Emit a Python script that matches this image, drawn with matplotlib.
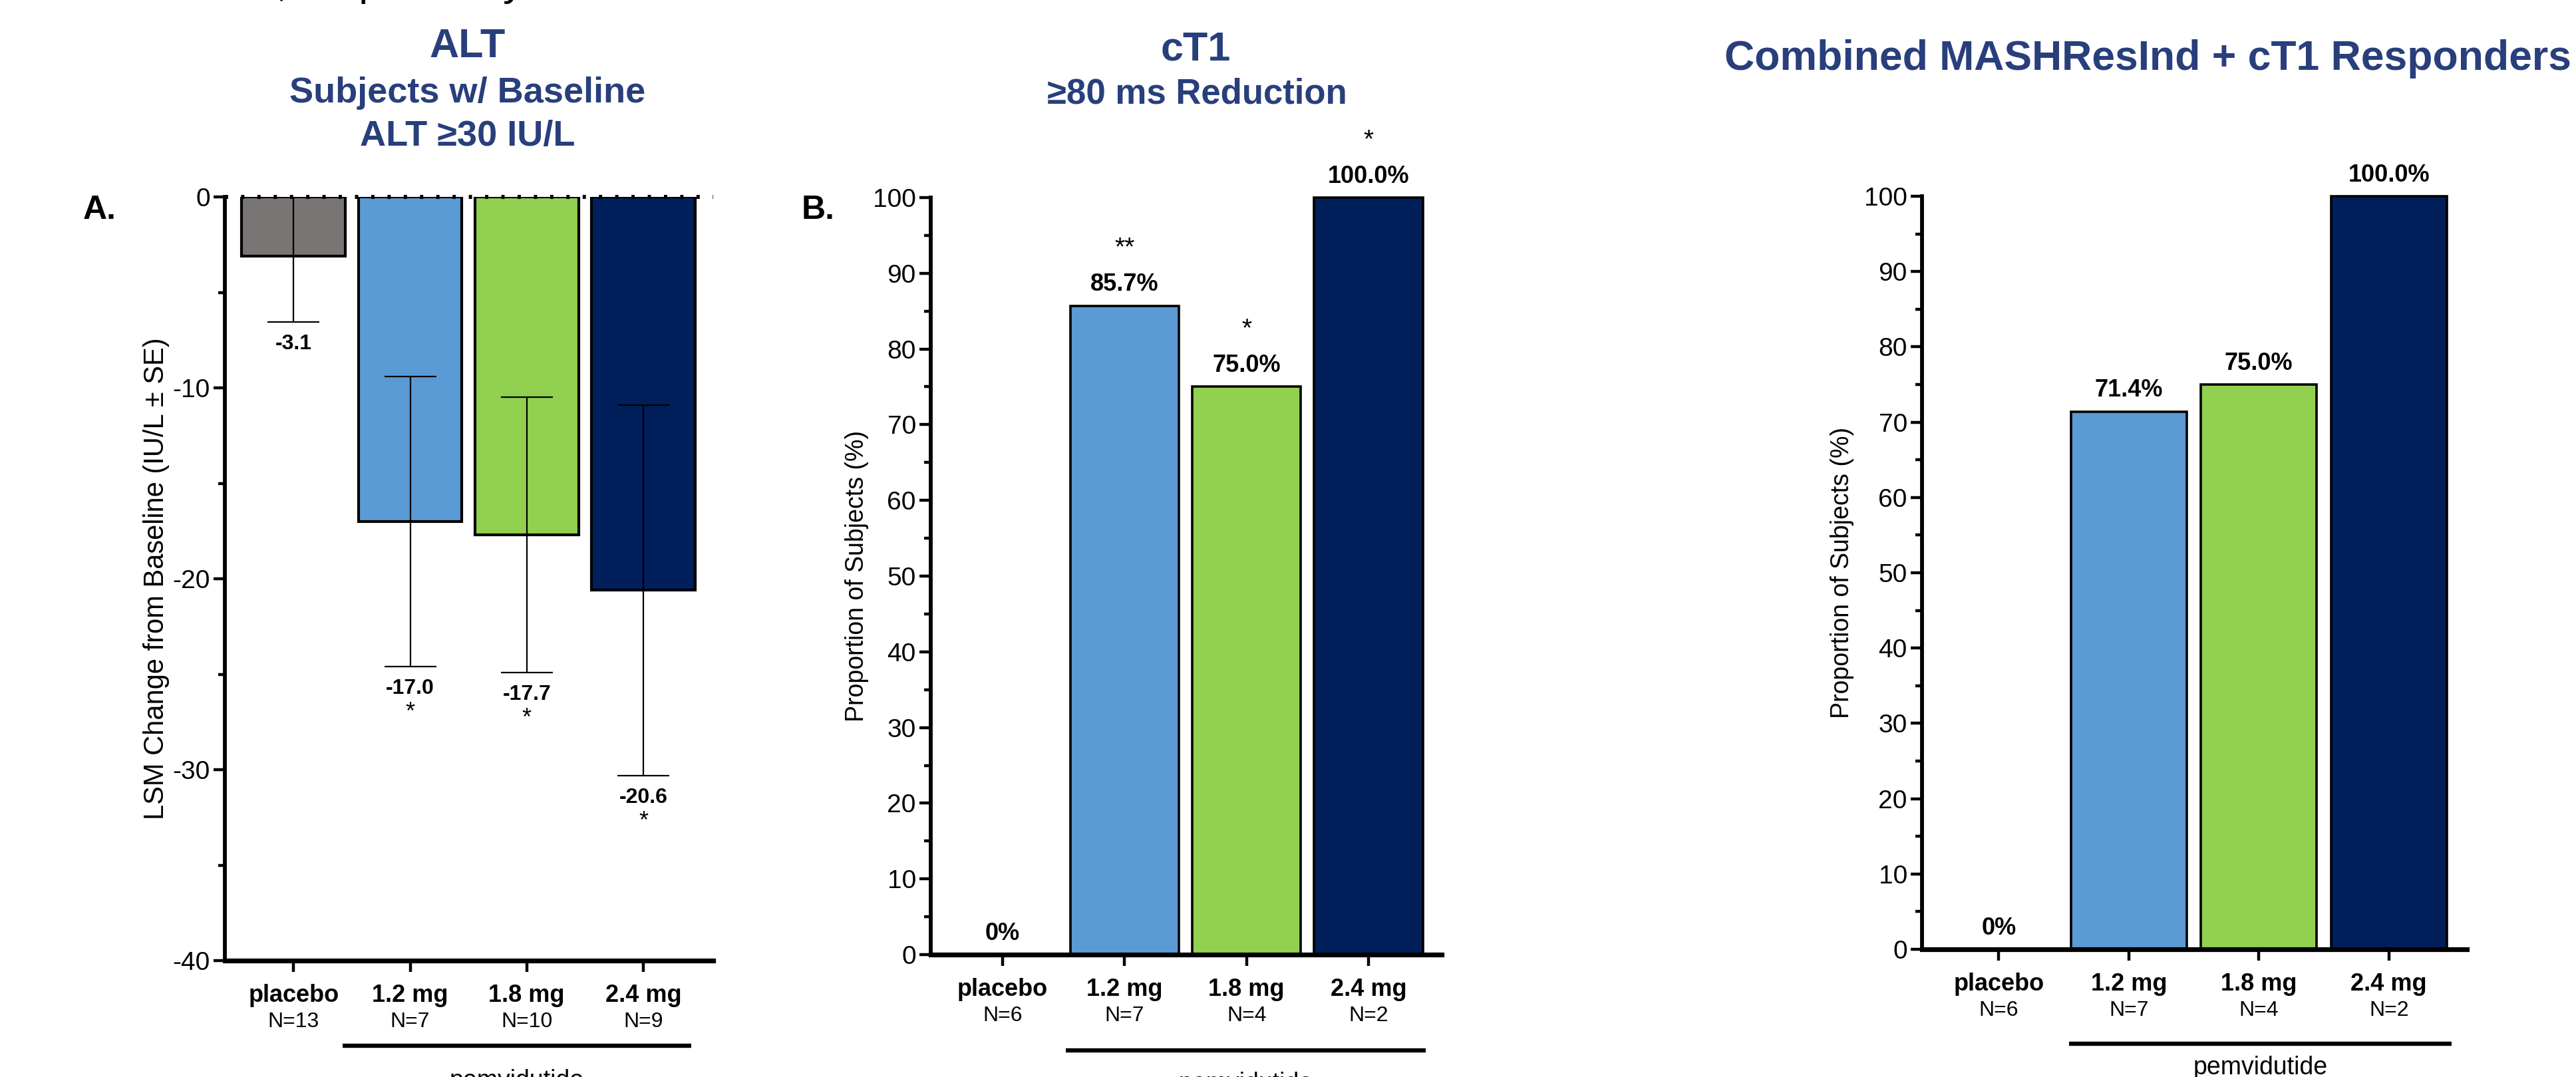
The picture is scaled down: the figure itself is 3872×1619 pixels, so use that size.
import matplotlib
matplotlib.use('Agg')
import matplotlib.pyplot as plt
from matplotlib.lines import Line2D
from matplotlib.ticker import MultipleLocator

plt.rcParams['axes.unicode_minus'] = False

W, H, DPI = 3872, 1619, 200

TITLE_COLOR = '#283F7C'
BAR_COLORS = ['#797574', '#5B9BD5', '#92D050', '#001F5B']
ARIAL = ['Liberation Sans', 'DejaVu Sans']

# ---------------------------------------------------------------------------
# Data
# ---------------------------------------------------------------------------
groups = ['placebo', '1.2 mg', '1.8 mg', '2.4 mg']

alt_n = [13, 7, 10, 9]
alt_lsm = [-3.1, -17.0, -17.7, -20.6]
alt_se = [3.45, 7.6, 7.2, 9.7]
alt_sig = ['', '*', '*', '*']

ct1_n = [6, 7, 4, 2]
ct1_pct = [0.0, 85.7, 75.0, 100.0]
ct1_sig = ['', '**', '*', '*']

combo_n = [6, 7, 4, 2]
combo_pct = [0.0, 71.4, 75.0, 100.0]
combo_sig = ['', '', '', '']


# ---------------------------------------------------------------------------
# Helpers
# ---------------------------------------------------------------------------
def px_axes(fig, l, t, r, b):
    return fig.add_axes([l / W, 1 - b / H, (r - l) / W, (b - t) / H])

def ftext(fig, x, y, s, **kw):
    fig.text(x / W, 1 - y / H, s, ha='center', va='center', **kw)

def style_axes(ax, ylim, major, minor):
    ax.set_xlim(-0.59, 3.6)
    ax.set_ylim(*ylim)
    for s in ('top', 'right'):
        ax.spines[s].set_visible(False)
    ax.spines['left'].set_linewidth(2.1)
    ax.spines['bottom'].set_linewidth(2.6)
    ax.yaxis.set_major_locator(MultipleLocator(major))
    ax.yaxis.set_minor_locator(MultipleLocator(minor))
    ax.tick_params(axis='y', which='major', length=6, width=1.6, labelsize=14, pad=2)
    ax.tick_params(axis='y', which='minor', length=3.5, width=1.6)
    ax.set_xticks(range(len(groups)))
    ax.set_xticklabels([])
    ax.tick_params(axis='x', length=6, width=1.6)
    for lab in ax.get_yticklabels():
        lab.set_fontfamily(ARIAL)

def set_ylabel(ax, text, size, xfrac):
    ax.set_ylabel(text, fontsize=size, family=ARIAL)
    ax.yaxis.set_label_coords(xfrac, 0.5)

def group_labels(ax, ns, span, line_off, text_off):
    for i, (g, n) in enumerate(zip(groups, ns)):
        ax.annotate(g, xy=(i, 0), xycoords=('data', 'axes fraction'),
                    xytext=(0, -19), textcoords='offset points',
                    ha='center', va='center', fontsize=13,
                    fontweight='bold', family=ARIAL, annotation_clip=False)
        ax.annotate(f'N={n}', xy=(i, 0), xycoords=('data', 'axes fraction'),
                    xytext=(0, -33), textcoords='offset points',
                    ha='center', va='center', fontsize=11.5,
                    family=ARIAL, annotation_clip=False)
    trans = ax.get_xaxis_transform()
    dy = line_off * DPI / 72 / (ax.bbox.height)
    ax.add_line(Line2D(span, [-dy, -dy], transform=trans, color='black',
                       lw=2.3, clip_on=False, solid_capstyle='butt'))
    ax.annotate('pemvidutide', xy=(sum(span) / 2, 0),
                xycoords=('data', 'axes fraction'),
                xytext=(0, -text_off), textcoords='offset points',
                ha='center', va='center', fontsize=13.5, family=ARIAL,
                annotation_clip=False)

def pct_bars(ax, pct, sig):
    ax.bar(range(len(pct)), pct, width=0.89, color=BAR_COLORS,
           edgecolor='black', linewidth=1.3, clip_on=False, zorder=2)
    for i, (v, s) in enumerate(zip(pct, sig)):
        lab = '0%' if v == 0 else f'{v:.1f}%'
        ax.annotate(lab, xy=(i, v), xytext=(0, 11.5), textcoords='offset points',
                    ha='center', va='center', fontsize=13, fontweight='bold',
                    family=ARIAL, annotation_clip=False)
        if s:
            ax.annotate(s, xy=(i, v), xytext=(0, 31), textcoords='offset points',
                        ha='center', va='center', fontsize=14,
                        family=ARIAL, annotation_clip=False)


# ---------------------------------------------------------------------------
# Figure
# ---------------------------------------------------------------------------
fig = plt.figure(figsize=(W / DPI, H / DPI), dpi=DPI)

# cut-off line of text at the very top of the slide
fig.text(415 / W, 1 + 7 / H, ', respectively', ha='left', va='baseline',
         fontsize=23, family=ARIAL, color='black')

# Panel A: ALT
axA = px_axes(fig, 338, 296, 1072, 1444)
style_axes(axA, (-40, 0), 10, 5)
axA.bar(range(len(alt_lsm)), alt_lsm, width=0.89, color=BAR_COLORS,
        edgecolor='black', linewidth=1.5, zorder=2)
axA.errorbar(range(len(alt_lsm)), alt_lsm, yerr=alt_se, fmt='none',
             ecolor='black', elinewidth=0.8, capsize=14, capthick=0.8, zorder=3)
axA.axhline(0, color='black', lw=2.2, ls=(0, (0.8, 3.2)), zorder=4, clip_on=False)
for i, (v, e, s) in enumerate(zip(alt_lsm, alt_se, alt_sig)):
    axA.annotate(f'{v:.1f}', xy=(i, v - e), xytext=(0, -12), textcoords='offset points',
                 ha='center', va='center', fontsize=11.5, fontweight='bold',
                 family=ARIAL)
    if s:
        axA.annotate(s, xy=(i, v - e), xytext=(0, -25), textcoords='offset points',
                     ha='center', va='center', fontsize=13, family=ARIAL)
set_ylabel(axA, 'LSM Change from Baseline (IU/L \u00b1 SE)', 15, -0.113)
group_labels(axA, alt_n, (0.42, 3.41), 46, 65)

# Panel B: cT1
axB = px_axes(fig, 1399, 297, 2167, 1435)
style_axes(axB, (0, 100), 10, 5)
pct_bars(axB, ct1_pct, ct1_sig)
set_ylabel(axB, 'Proportion of Subjects (%)', 13.5, -0.121)
group_labels(axB, ct1_n, (0.52, 3.47), 52, 70)

# Panel C: combined responders
axC = px_axes(fig, 2889, 295, 3708, 1427)
style_axes(axC, (0, 100), 10, 5)
pct_bars(axC, combo_pct, combo_sig)
set_ylabel(axC, 'Proportion of Subjects (%)', 13.5, -0.125)
group_labels(axC, combo_n, (0.54, 3.48), 51, 64)

# Titles
tkw = dict(color=TITLE_COLOR, fontweight='bold', family=ARIAL)
ftext(fig, 703, 70, 'ALT', fontsize=22, **tkw)
ftext(fig, 703, 140, 'Subjects w/ Baseline', fontsize=19.5, **tkw)
ftext(fig, 703, 205, 'ALT \u226530 IU/L', fontsize=19.5, **tkw)
ftext(fig, 1797, 75, 'cT1', fontsize=22, **tkw)
ftext(fig, 1799, 141, '\u226580 ms Reduction', fontsize=19, **tkw)
ftext(fig, 3228, 88, 'Combined MASHResInd + cT1 Responders', fontsize=22.5, **tkw)

# Panel letters
ftext(fig, 150, 316, 'A.', fontsize=18, fontweight='bold', family=ARIAL)
ftext(fig, 1230, 316, 'B.', fontsize=18, fontweight='bold', family=ARIAL)

fig.savefig('out.png', dpi=DPI)
